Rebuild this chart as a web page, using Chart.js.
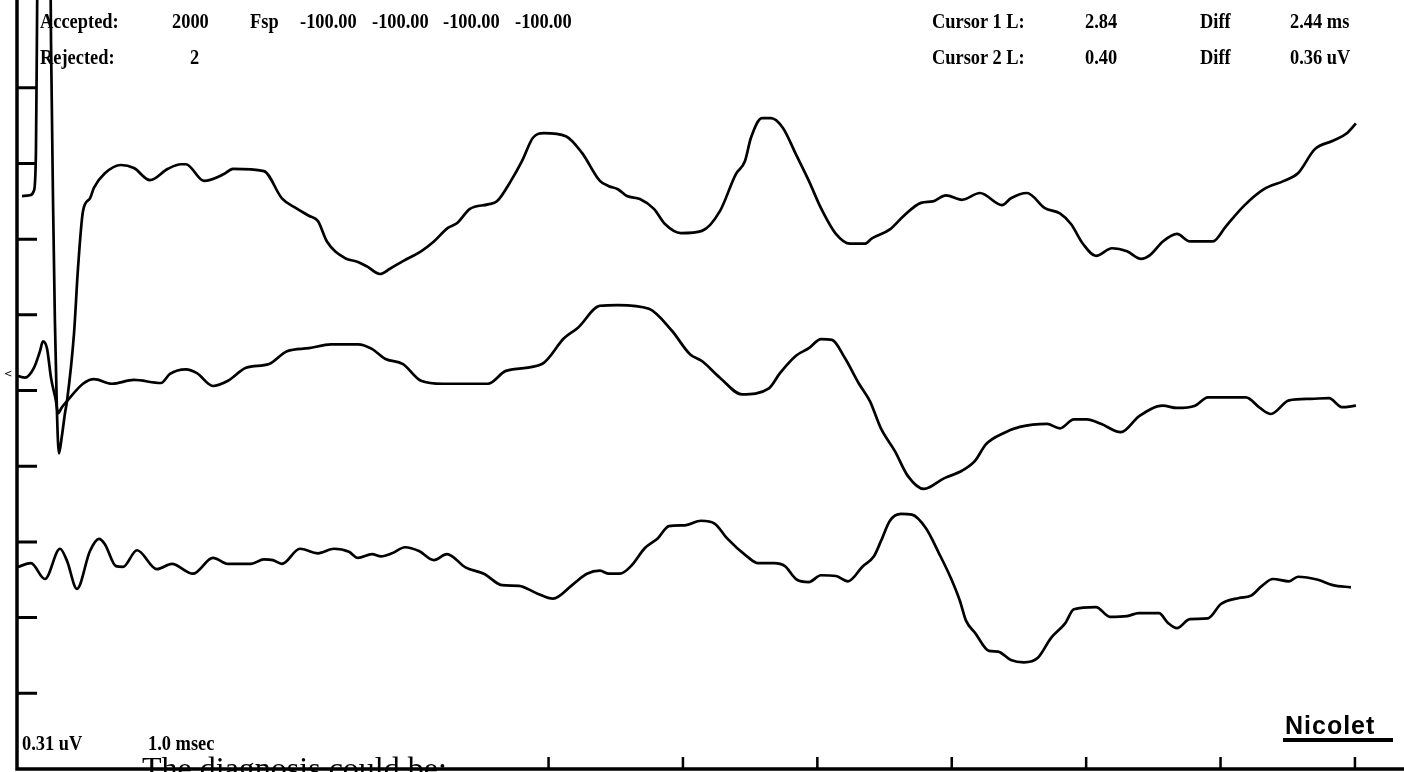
<!DOCTYPE html>
<html>
<head>
<meta charset="utf-8">
<script src="https://cdn.jsdelivr.net/npm/chart.js@4.4.0/dist/chart.umd.min.js"></script>
<style>
  html, body { margin: 0; padding: 0; background: #fff; }
  #wrap { position: relative; width: 1404px; height: 772px; overflow: hidden; background: #fff; }
  #plot { position: absolute; left: 0; top: 0; }
  .hd { position: absolute; font-family: "Liberation Serif", "Times New Roman", serif; font-weight: bold;
        font-size: 20px; line-height: 1; color: #000; white-space: pre; transform: scaleX(0.92); transform-origin: left top; }
  .diag { position: absolute; left: 142px; top: 752px; font-family: "Liberation Serif", serif; font-size: 32px;
          line-height: 1; color: #000; white-space: pre; }
  .brand { position: absolute; left: 1285px; top: 713px; font-family: "Liberation Sans", Arial, sans-serif;
           font-weight: bold; font-size: 25px; line-height: 1; letter-spacing: 1px; color: #000; }
  .uline { position: absolute; left: 1283px; top: 738px; width: 110px; height: 4px; background: #000; }
  .mark { position: absolute; left: 4px; top: 368px; font-family: "DejaVu Sans", sans-serif; font-size: 10px; color: #000; }
</style>
</head>
<body>
<div id="wrap">
  <canvas id="plot" width="1404" height="772" style="width:1404px;height:772px"></canvas>

  <div class="hd" style="left:40px;top:11px">Accepted:</div>
  <div class="hd" style="left:172px;top:11px">2000</div>
  <div class="hd" style="left:250px;top:11px">Fsp</div>
  <div class="hd" style="left:300px;top:11px">-100.00</div>
  <div class="hd" style="left:372px;top:11px">-100.00</div>
  <div class="hd" style="left:443px;top:11px">-100.00</div>
  <div class="hd" style="left:515px;top:11px">-100.00</div>
  <div class="hd" style="left:40px;top:47px">Rejected:</div>
  <div class="hd" style="left:190px;top:47px">2</div>

  <div class="hd" style="left:932px;top:11px">Cursor 1 L:</div>
  <div class="hd" style="left:1085px;top:11px">2.84</div>
  <div class="hd" style="left:1200px;top:11px">Diff</div>
  <div class="hd" style="left:1290px;top:11px">2.44 ms</div>
  <div class="hd" style="left:932px;top:47px">Cursor 2 L:</div>
  <div class="hd" style="left:1085px;top:47px">0.40</div>
  <div class="hd" style="left:1200px;top:47px">Diff</div>
  <div class="hd" style="left:1290px;top:47px">0.36 uV</div>

  <div class="hd" style="left:22px;top:733px">0.31 uV</div>
  <div class="hd" style="left:148px;top:733px">1.0 msec</div>

  <div class="brand">Nicolet</div>
  <div class="uline"></div>
  <div class="mark">&lt;</div>
  <div class="diag">The diagnosis could be:</div>
</div>

<script>
// time base in msec, amplitude in screen divisions (0.31 uV / div)
const trace1Time = [0.082,0.141,0.171,0.186,0.193,0.201,0.290,0.298,0.313,0.327,
  0.342,0.357,0.379,0.402,0.417,0.469,0.499,0.536,0.588,0.618,
  0.699,0.818,0.915,1.034,1.168,1.265,1.302,1.436,1.585,1.652,
  1.882,2.016,2.121,2.217,2.284,2.351,2.485,2.582,2.649,2.746,
  2.820,2.917,3.051,3.147,3.251,3.318,3.415,3.549,3.616,3.720,
  3.802,3.884,3.966,4.129,4.249,4.382,4.449,4.516,4.583,4.680,
  4.784,4.866,4.985,5.141,5.275,5.394,5.461,5.506,5.588,5.655,
  5.744,5.841,5.937,6.027,6.138,6.243,6.354,6.406,6.540,6.644,
  6.771,6.860,6.957,7.076,7.210,7.374,7.440,7.560,7.693,7.805,
  7.887,7.976,8.073,8.192,8.304,8.408,8.475,8.571,8.676,8.772,
  8.943,9.040,9.174,9.323,9.472,9.576,9.702,9.836,9.940,10.007];
const trace1Value = [7.57,7.58,7.64,8.16,9.62,11.20,11.20,9.62,7.50,5.92,
  4.73,4.17,4.40,4.70,4.86,5.75,6.62,7.37,7.54,7.68,
  7.87,7.98,7.94,7.78,7.93,7.99,7.99,7.77,7.86,7.93,
  7.90,7.54,7.41,7.31,7.24,6.97,6.75,6.70,6.64,6.54,
  6.61,6.71,6.84,6.97,7.15,7.21,7.40,7.46,7.50,7.77,
  8.03,8.34,8.40,8.36,8.14,7.77,7.70,7.66,7.57,7.53,
  7.40,7.20,7.08,7.11,7.37,7.86,8.03,8.34,8.60,8.60,
  8.47,8.12,7.77,7.41,7.07,6.94,6.94,7.01,7.13,7.31,
  7.48,7.50,7.58,7.52,7.61,7.45,7.54,7.61,7.41,7.34,
  7.20,6.94,6.78,6.88,6.84,6.74,6.79,6.97,7.07,6.97,
  6.97,7.17,7.44,7.66,7.77,7.87,8.19,8.30,8.40,8.53];

const trace2Time = [0.015,0.104,0.171,0.216,0.238,0.268,0.298,0.335,0.350,0.379,
  0.417,0.536,0.618,0.751,0.915,1.116,1.183,1.302,1.384,1.503,
  1.615,1.749,1.920,2.054,2.217,2.381,2.582,2.686,2.783,2.917,
  3.051,3.214,3.549,3.683,3.951,4.115,4.219,4.382,4.516,4.747,
  4.918,5.052,5.141,5.275,5.439,5.640,5.722,5.841,5.937,6.027,
  6.109,6.205,6.310,6.391,6.473,6.577,6.674,6.793,6.942,7.076,
  7.173,7.254,7.388,7.507,7.708,7.805,7.909,8.006,8.110,8.259,
  8.393,8.571,8.676,8.810,8.906,9.070,9.189,9.293,9.375,9.509,
  9.673,9.807,9.903,10.007];
const trace2Value = [5.22,5.17,5.30,5.52,5.65,5.56,5.17,4.86,4.70,4.78,
  4.86,5.09,5.15,5.09,5.14,5.10,5.22,5.28,5.23,5.06,
  5.13,5.30,5.35,5.52,5.56,5.61,5.61,5.55,5.42,5.35,
  5.13,5.09,5.09,5.26,5.35,5.69,5.83,6.12,6.13,6.08,
  5.79,5.48,5.39,5.17,4.95,5.03,5.23,5.46,5.56,5.68,
  5.67,5.43,5.09,4.86,4.50,4.20,3.87,3.70,3.84,3.94,
  4.07,4.29,4.44,4.52,4.56,4.50,4.62,4.62,4.56,4.45,
  4.66,4.80,4.77,4.80,4.91,4.91,4.91,4.77,4.69,4.87,
  4.89,4.90,4.78,4.80];

const trace3Time = [0.052,0.149,0.253,0.365,0.417,0.491,0.588,0.655,0.699,0.781,
  0.833,0.938,1.086,1.198,1.354,1.503,1.615,1.786,1.882,1.949,
  2.016,2.150,2.284,2.403,2.515,2.582,2.686,2.753,2.835,2.932,
  3.036,3.147,3.244,3.385,3.519,3.653,3.780,3.914,4.033,4.182,
  4.286,4.382,4.449,4.531,4.613,4.717,4.814,4.896,5.015,5.134,
  5.238,5.327,5.476,5.558,5.677,5.759,5.841,5.937,6.027,6.138,
  6.228,6.339,6.421,6.473,6.540,6.622,6.704,6.808,6.905,6.994,
  7.061,7.106,7.173,7.277,7.344,7.440,7.537,7.641,7.738,7.842,
  7.909,8.073,8.177,8.304,8.393,8.542,8.609,8.676,8.772,8.906,
  9.003,9.137,9.226,9.308,9.390,9.509,9.576,9.725,9.836,9.970];
const trace3Value = [2.67,2.72,2.51,2.91,2.75,2.38,2.88,3.04,2.97,2.68,
  2.67,2.89,2.64,2.71,2.58,2.79,2.71,2.71,2.77,2.76,
  2.71,2.91,2.85,2.91,2.87,2.79,2.84,2.81,2.85,2.93,
  2.88,2.76,2.84,2.66,2.58,2.43,2.42,2.32,2.25,2.44,
  2.58,2.62,2.58,2.58,2.68,2.92,3.05,3.21,3.22,3.28,
  3.24,3.05,2.81,2.72,2.72,2.68,2.51,2.47,2.56,2.55,
  2.48,2.68,2.81,3.01,3.28,3.37,3.36,3.18,2.85,2.52,
  2.22,1.96,1.80,1.56,1.55,1.44,1.41,1.47,1.73,1.92,
  2.11,2.14,2.01,2.02,2.06,2.06,1.93,1.86,1.98,1.99,
  2.18,2.26,2.29,2.42,2.51,2.48,2.54,2.50,2.43,2.40];

// division marks on the frame
const yTickValues = [1, 2, 3, 4, 5, 6, 7, 8, 9];
const xTickValues = [4, 5, 6, 7, 8, 9, 10];

function toPoints(times, values) {
  return times.map((t, i) => ({ x: t, y: values[i] }));
}

// draws the frame and inward tick marks using the chart's own scales
const frameAxes = {
  id: 'frameAxes',
  afterDatasetsDraw(chart) {
    const { ctx, chartArea: a, scales: { x, y } } = chart;
    ctx.save();
    ctx.strokeStyle = '#000';
    ctx.lineCap = 'butt';

    ctx.lineWidth = 3.5;
    ctx.beginPath();
    ctx.moveTo(a.left, a.top);
    ctx.lineTo(a.left, a.bottom);
    ctx.lineTo(a.right, a.bottom);
    ctx.stroke();

    ctx.lineWidth = 3;
    ctx.beginPath();
    yTickValues.forEach(v => {
      const py = y.getPixelForValue(v);
      ctx.moveTo(a.left, py);
      ctx.lineTo(a.left + 20, py);
    });
    ctx.stroke();

    ctx.lineWidth = 2.5;
    ctx.beginPath();
    xTickValues.forEach(v => {
      const px = x.getPixelForValue(v);
      ctx.moveTo(px, a.bottom);
      ctx.lineTo(px, a.bottom - 12);
    });
    ctx.stroke();
    ctx.restore();
  }
};

window.onload = function() {
  const ctx = document.getElementById('plot').getContext('2d');

  const lineStyle = {
    borderColor: '#000',
    borderWidth: 2.7,
    pointRadius: 0,
    fill: false,
    cubicInterpolationMode: 'monotone',
    borderJoinStyle: 'round'
  };

  new Chart(ctx, {
    type: 'line',
    data: {
      datasets: [
        { label: 'Trace 1', data: toPoints(trace1Time, trace1Value), ...lineStyle },
        { label: 'Trace 2', data: toPoints(trace2Time, trace2Value), ...lineStyle },
        { label: 'Trace 3', data: toPoints(trace3Time, trace3Value), ...lineStyle }
      ]
    },
    options: {
      responsive: false,
      animation: false,
      devicePixelRatio: 1,
      layout: { padding: { left: 17, right: 0, top: 0, bottom: 3 } },
      plugins: { legend: { display: false }, tooltip: { enabled: false } },
      scales: {
        x: { type: 'linear', display: false, min: 0.045, max: 10.365 },
        y: { display: false, min: 0, max: 10.16 }
      }
    },
    plugins: [frameAxes]
  });
};
</script>
</body>
</html>
